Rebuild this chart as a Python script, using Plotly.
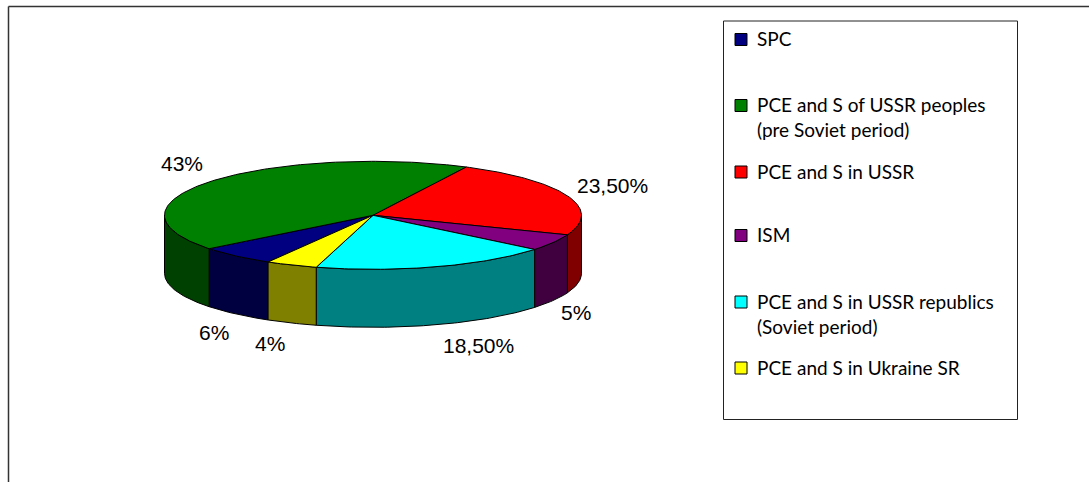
import numpy as np
import plotly.graph_objects as go

# --- data ---
categories = ["SPC", "PCE and S of USSR peoples<br>(pre Soviet period)", "PCE and S in USSR", "ISM",
              "PCE and S in USSR republics<br>(Soviet period)", "PCE and S in Ukraine SR"]
values = [6, 43, 23.5, 5, 18.5, 4]
value_labels = ["6%", "43%", "23,50%", "5%", "18,50%", "4%"]
top_colors = ["#000080", "#008000", "#FF0000", "#800080", "#00FFFF", "#FFFF00"]
side_colors = ["#000040", "#004000", "#800000", "#400040", "#008080", "#808000"]

# --- geometry of the projected pie (page pixels) ---
CX, CY, RX, RY, DEPTH = 373, 215.3, 208.5, 54, 58
START = 210.2  # clockwise from 12 o'clock
label_xy = [(214, 332), (182, 163), (612, 185.5), (576, 312.5), (478, 345.5), (270, 343.5)]
legend_y = [39.5, 105.5, 172, 235.5, 302, 368]
text_y = [38, 117, 171, 234, 314, 367]


def rim(a, b, n=None):
    t = np.radians(np.linspace(a, b, n or max(2, int(abs(b - a)) + 2)))
    return CX + RX * np.sin(t), CY - RY * np.cos(t)


fig = go.Figure()
edges = START + np.concatenate([[0], np.cumsum(values)]) * 3.6

# side walls: only the front half (90..270 degrees, clockwise from top) is visible
for i, v in enumerate(values):
    a, b = edges[i], edges[i + 1]
    for shift in (0, 360, -360):
        lo, hi = max(a + shift, 90), min(b + shift, 270)
        if lo < hi:
            x, y = rim(lo, hi)
            fig.add_trace(go.Scatter(
                x=np.r_[x, x[::-1], x[0]], y=np.r_[y, y[::-1] + DEPTH, y[0]],
                mode="lines", fill="toself", fillcolor=side_colors[i],
                line=dict(color="black", width=1), hoverinfo="skip", showlegend=False))

# top faces
for i, v in enumerate(values):
    x, y = rim(edges[i], edges[i + 1])
    fig.add_trace(go.Scatter(
        x=np.r_[CX, x, CX], y=np.r_[CY, y, CY],
        mode="lines", fill="toself", fillcolor=top_colors[i],
        line=dict(color="black", width=1), name=categories[i], hoverinfo="name", showlegend=False))

# legend swatches
fig.add_trace(go.Scatter(
    x=[741] * len(categories), y=legend_y, mode="markers",
    marker=dict(symbol="square", size=12, color=top_colors, line=dict(color="black", width=1)),
    hoverinfo="skip", showlegend=False))

annotations = []
for (lx, ly), t in zip(label_xy, value_labels):
    annotations.append(dict(x=lx, y=ly, text=t, showarrow=False, xref="x", yref="y",
                            font=dict(family="Liberation Sans", size=21, color="#000000")))
for c, ty in zip(categories, text_y):
    annotations.append(dict(x=755, y=ty, text=c, showarrow=False, xref="x", yref="y", xanchor="left",
                            align="left", font=dict(family="Lato", size=19, color="#000000")))

frame = dict(color="#333333", width=1.5)
shapes = [
    dict(type="line", xref="x", yref="y", x0=8.5, y0=6.5, x1=1089, y1=6.5, line=frame),
    dict(type="line", xref="x", yref="y", x0=8.5, y0=6.5, x1=8.5, y1=482, line=frame),
    dict(type="rect", xref="x", yref="y", x0=723.5, y0=21, x1=1017.5, y1=419.5,
         line=dict(color="#222222", width=1), layer="below"),
]

fig.update_layout(
    width=1089, height=482, margin=dict(l=0, r=0, t=0, b=0),
    paper_bgcolor="white", plot_bgcolor="white", showlegend=False,
    xaxis=dict(range=[0, 1089], visible=False, fixedrange=True),
    yaxis=dict(range=[482, 0], visible=False, fixedrange=True),
    annotations=annotations, shapes=shapes,
)
fig.write_html("out.html", config=dict(displayModeBar=False),
               post_script="document.body.style.margin='0';document.body.style.overflow='hidden';")
